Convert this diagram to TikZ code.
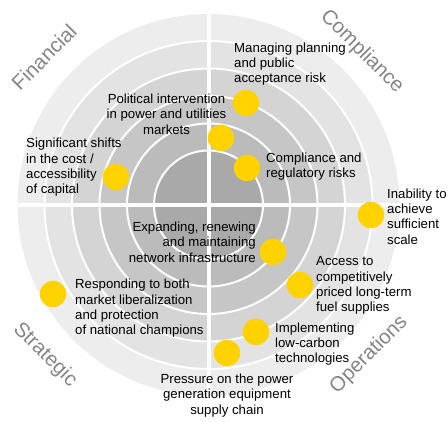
\documentclass[tikz,border=0pt]{standalone}
\usepackage{fontspec}
\setmainfont{Liberation Sans}
\usetikzlibrary{positioning}
\definecolor{ringA}{HTML}{EDEDED}
\definecolor{ringB}{HTML}{E3E3E3}
\definecolor{ringC}{HTML}{D4D4D4}
\definecolor{ringD}{HTML}{C6C6C6}
\definecolor{ringE}{HTML}{BBBBBB}
\definecolor{ringF}{HTML}{A9A9A9}
\definecolor{riskyellow}{HTML}{FFD200}
\definecolor{sectorgray}{HTML}{858585}

\begin{document}
\begin{tikzpicture}[x=1pt,y=-1pt]
\tikzset{dot/.style={circle,fill=riskyellow,minimum size=26.5pt,inner sep=0pt},
  risk/.style={font=\fontsize{13.2}{15.3}\selectfont,inner sep=0pt,text=black},
  sector/.style={font=\fontsize{20.5}{20.5}\selectfont,text=sectorgray,inner sep=0pt}}
\useasboundingbox (0,0) rectangle (448,422);
\coordinate (c) at (208.5,205);
% rings, outside in
\foreach \r/\col in {191/ringA,164/ringB,136.5/ringC,109/ringD,81.5/ringE,54.5/ringF}
  \fill[\col] (c) circle (\r);
\foreach \r in {164,136.5,109,81.5,54.5}
  \draw[white,line width=2pt] (c) circle (\r);
\draw[white,line width=4pt] (208.5,8) -- (208.5,402) (12,205) -- (405,205);
% sectors
\node[sector,rotate=45] (financial) at (44,57) {Financial};
\node[sector,rotate=-45] (compliance) at (362,52) {Compliance};
\node[sector,rotate=-45] (strategic) at (45,355) {Strategic};
\node[sector,rotate=45] (operations) at (369,355) {Operations};
% risks
\node[dot] (d1) at (246,103) {};
\node[dot] (d2) at (221,138) {};
\node[dot] (d3) at (247,168) {};
\node[dot] (d4) at (116,177) {};
\node[dot] (d5) at (371,215) {};
\node[dot] (d6) at (273,252) {};
\node[dot] (d7) at (300,285) {};
\node[dot] (d8) at (53,294) {};
\node[dot] (d9) at (256,332) {};
\node[dot] (d10) at (227,353) {};
\node[risk,anchor=west,align=left] (t1) at (234,64) {Managing planning\\and public\\acceptance risk};
\node[risk,align=center] (t2) at (166.5,114) {Political intervention\\in power and utilities\\markets};
\node[risk,anchor=west,align=left] (t3) at (266,166.5) {Compliance and\\regulatory risks};
\node[risk,anchor=west,align=left] (t4) at (26,167.5) {Significant shifts\\in the cost /\\accessibility\\of capital};
\node[risk,anchor=west,align=left] (t5) at (387,216.5) {Inability to\\achieve\\sufficient\\scale};
\node[risk,anchor=east,align=right] (t6) at (256,242) {Expanding, renewing\\and maintaining\\network infrastructure};
\node[risk,anchor=west,align=left] (t7) at (316,285.5) {Access to\\competitively\\priced long-term\\fuel supplies};
\node[risk,anchor=west,align=left] (t8) at (75,308.5) {Responding to both\\market liberalization\\and protection\\of national champions};
\node[risk,anchor=west,align=left] (t9) at (275,344) {Implementing\\low-carbon\\technologies};
\node[risk,align=center] (t10) at (227,395.5) {Pressure on the power\\generation equipment\\supply chain};
\end{tikzpicture}
\end{document}
